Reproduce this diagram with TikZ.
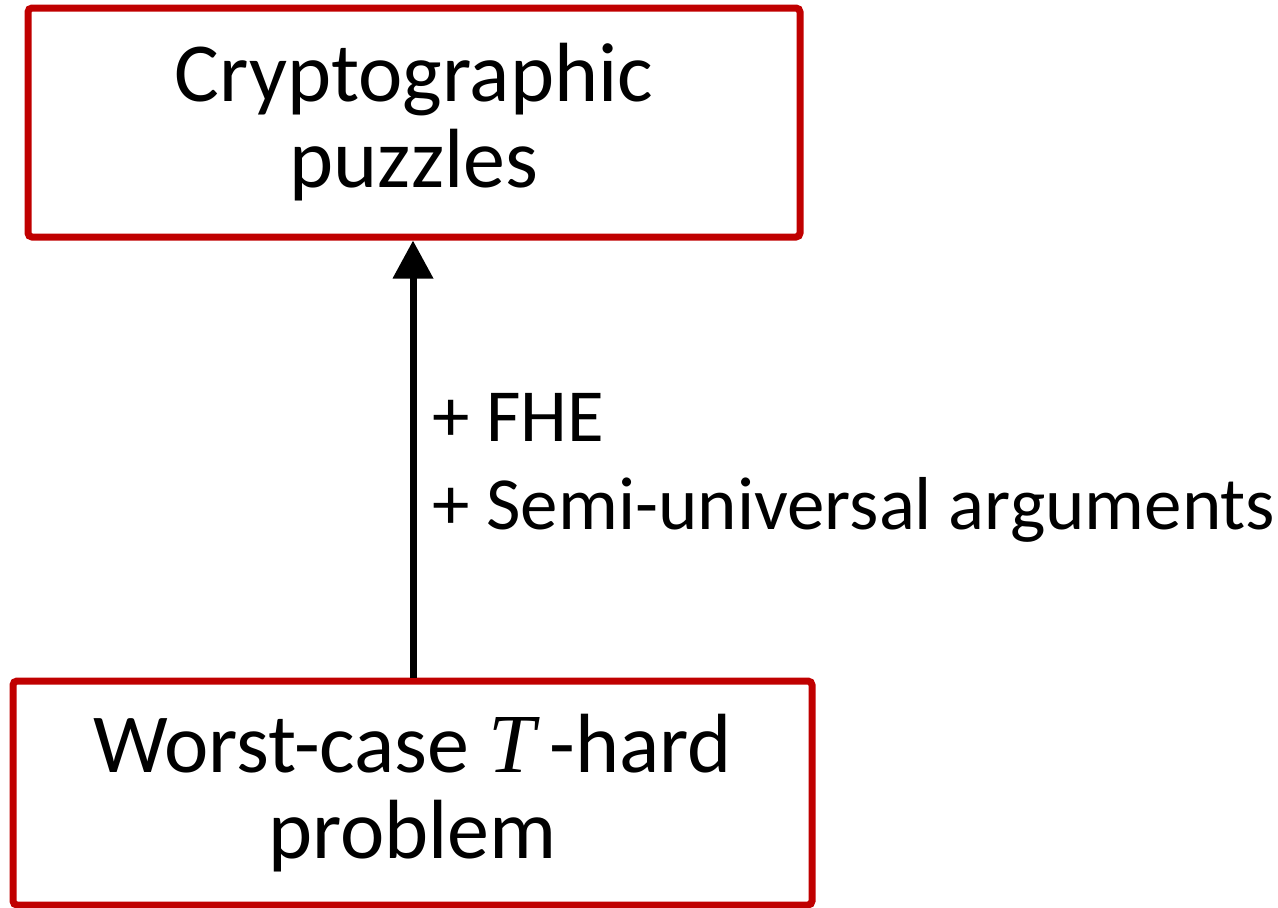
\documentclass[tikz,border=0pt]{standalone}
\usepackage{fontspec}
\setmainfont{Carlito}
\newfontfamily\varfont{Liberation Serif}
\usepackage{tikz}
\usetikzlibrary{positioning,arrows.meta}
\definecolor{BoxRed}{RGB}{192, 0, 0}
\tikzset{probbox/.style={draw=BoxRed, line width=3.5pt, rounded corners=2pt,
			align=center, inner sep=0pt, font=\fontsize{42}{43}\selectfont}}
\newcommand{\hardvar}{{\varfont\itshape T}}

\begin{document}
\begin{tikzpicture}[x=0.5pt,y=-0.5pt]
	\useasboundingbox (0,0) rectangle (1278,907);
	\node[probbox, minimum width=386pt, minimum height=114.5pt] (puzzle) at (414,122.5) {Cryptographic\\puzzles};
	\node[probbox, minimum width=399.5pt, minimum height=112pt] (hard) at (412.5,793) {Worst-case \hardvar\,-hard\\problem};
	\draw[-{Triangle[width=19.5pt,length=19pt]}, line width=3.5pt] (hard.north -| 413,0) -- (puzzle.south -| 413,0) node[pos=0.47, anchor=west, align=left, xshift=4.5pt, yshift=2pt, font=\fontsize{37.5}{44}\selectfont] (lbl) {+ FHE\\+ Semi-universal arguments};
\end{tikzpicture}
\end{document}
